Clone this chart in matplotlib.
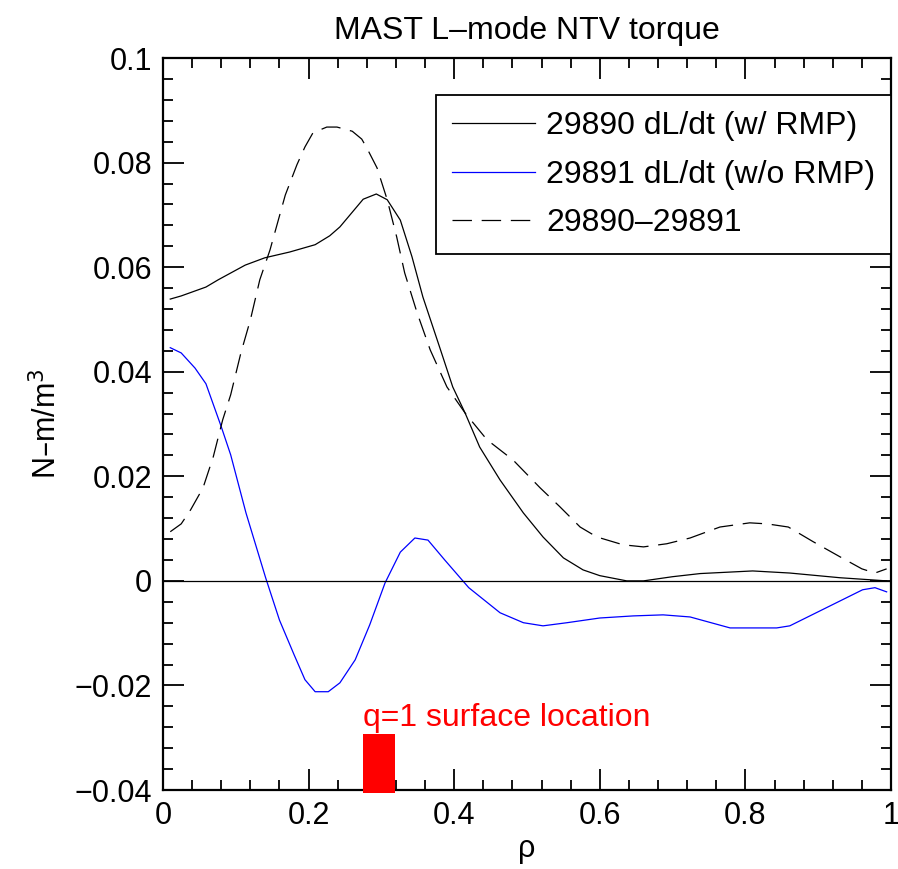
import matplotlib
matplotlib.use("Agg")
import matplotlib.pyplot as plt
from matplotlib.ticker import MultipleLocator

plt.rcParams['font.family'] = ['Liberation Sans', 'DejaVu Sans']
plt.rcParams['lines.scale_dashes'] = False

# 29890 dL/dt (w/ RMP)
rho_a = [0.01, 0.025, 0.059, 0.076, 0.113, 0.14, 0.174, 0.209, 0.229, 0.243, 0.275, 0.293,
         0.308, 0.326, 0.342, 0.357, 0.38, 0.398, 0.415, 0.435, 0.463, 0.495, 0.522, 0.55,
         0.577, 0.6, 0.637, 0.66, 0.70, 0.738, 0.81, 0.861, 0.93, 0.994]
tq_a = [0.0539, 0.0545, 0.0562, 0.0576, 0.0604, 0.0618, 0.0629, 0.0643, 0.066, 0.0677, 0.0730, 0.0740,
        0.0729, 0.069, 0.062, 0.0543, 0.0447, 0.0371, 0.0321, 0.0256, 0.0193, 0.013, 0.0084, 0.0044,
        0.0021, 0.001, 0.0, 0.0, 0.0008, 0.0014, 0.0019, 0.0015, 0.0006, 0.0]

# 29891 dL/dt (w/o RMP)
rho_b = [0.01, 0.025, 0.044, 0.059, 0.08, 0.093, 0.114, 0.141, 0.16, 0.18, 0.195, 0.209,
         0.227, 0.243, 0.264, 0.284, 0.305, 0.326, 0.346, 0.364, 0.387, 0.42, 0.463, 0.495,
         0.522, 0.555, 0.6, 0.646, 0.687, 0.724, 0.779, 0.843, 0.861, 0.961, 0.978, 0.994]
tq_b = [0.0446, 0.0436, 0.0407, 0.0377, 0.0295, 0.0241, 0.013, 0.0006, -0.0075, -0.0141, -0.0189, -0.0212,
        -0.0212, -0.0195, -0.0151, -0.0084, -0.0004, 0.0055, 0.0082, 0.0078, 0.004, -0.0013, -0.0061, -0.008,
        -0.0086, -0.008, -0.0071, -0.0067, -0.0065, -0.0069, -0.009, -0.009, -0.0086, -0.0017, -0.0013, -0.0021]

# 29890-29891
rho_d = [0.01, 0.025, 0.038, 0.055, 0.069, 0.082, 0.093, 0.107, 0.12, 0.133, 0.147, 0.168,
         0.184, 0.195, 0.206, 0.225, 0.239, 0.26, 0.273, 0.28, 0.294, 0.308, 0.321, 0.332,
         0.349, 0.367, 0.39, 0.415, 0.445, 0.481, 0.518, 0.545, 0.573, 0.596, 0.632, 0.66,
         0.692, 0.724, 0.765, 0.806, 0.83, 0.859, 0.893, 0.93, 0.96, 0.978, 0.994]
tq_d = [0.0094, 0.0109, 0.0136, 0.0178, 0.0237, 0.0308, 0.0356, 0.0436, 0.0499, 0.0576, 0.0633, 0.0738,
        0.0796, 0.083, 0.0857, 0.0868, 0.0868, 0.086, 0.0845, 0.0828, 0.079, 0.0729, 0.0658, 0.0589,
        0.0513, 0.0442, 0.0371, 0.0321, 0.027, 0.0231, 0.0178, 0.0142, 0.0103, 0.0084, 0.0069, 0.0065,
        0.0071, 0.0082, 0.0103, 0.0111, 0.0109, 0.0103, 0.0075, 0.0046, 0.0023, 0.0015, 0.0023]

# q=1 surface marker
q1_lo, q1_hi = 0.275, 0.319
q1_top = -0.0293

fig = plt.figure(figsize=(8.98, 8.69), dpi=100)
ax = fig.add_axes([0.1815, 0.0909, 0.8107, 0.8423])

ax.plot(rho_a, tq_a, color='black', lw=0.9, label='29890 dL/dt (w/ RMP)')
ax.plot(rho_b, tq_b, color='blue', lw=0.9, label='29891 dL/dt (w/o RMP)')
ax.plot(rho_d, tq_d, color='black', lw=0.9, dashes=(14, 7), label='29890\u201329891')
ax.axhline(0, color='black', lw=0.9)

ax.fill_between([q1_lo, q1_hi], -0.0405, q1_top, color='red', lw=0, clip_on=False, zorder=5)
ax.text(q1_lo, -0.0262, 'q=1 surface location', color='red', fontsize=23,
        ha='left', va='center')

ax.set_xlim(0, 1)
ax.set_ylim(-0.04, 0.1)
ax.xaxis.set_minor_locator(MultipleLocator(0.04))
ax.yaxis.set_minor_locator(MultipleLocator(0.004))
ax.set_xticks([0, 0.2, 0.4, 0.6, 0.8, 1.0])
ax.set_xticklabels(['0', '0.2', '0.4', '0.6', '0.8', '1'])
ax.set_yticks([-0.04, -0.02, 0, 0.02, 0.04, 0.06, 0.08, 0.1])
ax.set_yticklabels(['\u22120.04', '\u22120.02', '0', '0.02', '0.04', '0.06', '0.08', '0.1'])
ax.tick_params(which='both', direction='in', top=True, right=True, width=1.3, labelsize=22)
ax.tick_params(which='major', length=15, pad=8)
ax.tick_params(which='minor', length=7.5)
for s in ax.spines.values():
    s.set_linewidth(1.6)

ax.set_xlabel('\u03c1', fontsize=22, labelpad=2)
ax.set_ylabel('N\u2013m/m$^3$', fontsize=22, labelpad=8)
ax.set_title('MAST L\u2013mode NTV torque', fontsize=23, pad=14)

leg = ax.legend(loc='upper right', bbox_to_anchor=(1.0, 0.949), fontsize=23,
                frameon=True, fancybox=False, edgecolor='black', framealpha=1,
                handlelength=2.6, handletextpad=0.35, labelspacing=0.58,
                borderpad=0.5, borderaxespad=0)
leg.get_frame().set_linewidth(1.3)

fig.savefig('out.png', dpi=100)
